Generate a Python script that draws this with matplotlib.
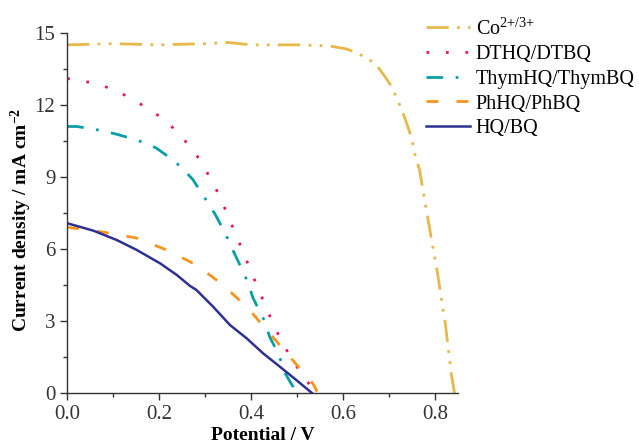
import matplotlib
matplotlib.use('Agg')
import matplotlib.pyplot as plt
from matplotlib.ticker import MultipleLocator

plt.rcParams['font.family'] = ['Liberation Serif', 'DejaVu Serif']
plt.rcParams['mathtext.default'] = 'regular'

# J-V curves
v_co = [0, 0.1, 0.2, 0.3, 0.35, 0.4, 0.5, 0.55, 0.578, 0.607, 0.632, 0.656, 0.675, 0.69, 0.704, 0.715,
        0.726, 0.735, 0.744, 0.751, 0.757, 0.766, 0.782, 0.798, 0.805, 0.822, 0.835, 0.842]
j_co = [14.5, 14.55, 14.5, 14.55, 14.6, 14.5, 14.5, 14.47, 14.43, 14.33, 14.15, 13.9, 13.6, 13.2, 12.8, 12.35,
        11.86, 11.4, 10.9, 10.4, 9.85, 9.3, 7.5, 5.75, 5.0, 2.9, 0.8, 0]

v_dthq = [0, 0.01, 0.051, 0.093, 0.134, 0.171, 0.209, 0.241, 0.268, 0.293, 0.312, 0.332, 0.349, 0.367,
          0.382, 0.399, 0.415, 0.432, 0.449, 0.468, 0.49, 0.515, 0.541]
j_dthq = [13.1, 13.07, 12.93, 12.7, 12.33, 11.9, 11.42, 10.85, 10.24, 9.6, 8.9, 8.2, 7.4, 6.6,
          5.9, 5.1, 4.36, 3.6, 2.83, 2.1, 1.35, 0.65, 0]

v_thym = [0, 0.021, 0.057, 0.082, 0.111, 0.144, 0.171, 0.194, 0.223, 0.245, 0.273, 0.30, 0.323, 0.345,
          0.364, 0.382, 0.393, 0.404, 0.417, 0.43, 0.44, 0.453, 0.464, 0.476, 0.491, 0.495]
j_thym = [11.1, 11.1, 10.99, 10.9, 10.76, 10.58, 10.4, 10.2, 9.8, 9.46, 8.9, 8.1, 7.4, 6.6,
          5.8, 5.07, 4.6, 3.96, 3.46, 2.97, 2.35, 1.86, 1.375, 0.75, 0.26, 0]

v_ph = [0, 0.013, 0.078, 0.152, 0.217, 0.281, 0.339, 0.393, 0.44, 0.487, 0.534, 0.545]
j_ph = [6.9, 6.87, 6.7, 6.45, 5.95, 5.33, 4.5, 3.53, 2.49, 1.44, 0.4, 0]

v_hq = [0, 0.057, 0.108, 0.151, 0.202, 0.238, 0.267, 0.281, 0.317, 0.354, 0.39, 0.426, 0.462, 0.498, 0.532]
j_hq = [7.07, 6.76, 6.37, 5.96, 5.4, 4.92, 4.46, 4.29, 3.6, 2.83, 2.28, 1.65, 1.1, 0.54, 0]

fig = plt.figure(figsize=(6.39, 4.44), dpi=100)
ax = fig.add_axes([0.105, 0.115, 0.612, 0.811])

ax.plot(v_co, j_co, color='#E8B84A', lw=2, ls=(0, (8, 3, 1, 3, 1, 3)), label='Co$^{2{+}/3{+}}$')
ax.plot(v_dthq, j_dthq, color='#EE1460', lw=2, ls=(0, (1, 6)), label='DTHQ/DTBQ')
ax.plot(v_thym, j_thym, color='#0A9EA6', lw=2, ls=(0, (6, 4.5, 1, 4.5)), label='ThymHQ/ThymBQ')
ax.plot(v_ph, j_ph, color='#F7941D', lw=2, ls=(0, (4.3, 6.5)), label='PhHQ/PhBQ')
ax.plot(v_hq, j_hq, color='#2E3192', lw=1.8, ls='-', label='HQ/BQ')

ax.set_xlim(0, 0.85)
ax.set_ylim(0, 15)
ax.xaxis.set_major_locator(MultipleLocator(0.2))
ax.xaxis.set_minor_locator(MultipleLocator(0.1))
ax.yaxis.set_major_locator(MultipleLocator(3))
ax.yaxis.set_minor_locator(MultipleLocator(1.5))
ax.set_xticklabels(['%.1f' % t for t in ax.get_xticks()])

for side in ['top', 'right']:
    ax.spines[side].set_visible(False)
for side in ['left', 'bottom']:
    ax.spines[side].set_color('#333333')
    ax.spines[side].set_linewidth(1)
ax.tick_params(which='major', direction='out', length=5, width=1, color='#333333', labelsize=15, labelcolor='#333333')
ax.tick_params(which='minor', direction='out', length=3, width=1, color='#333333')

ax.set_xlabel('Potential / V', fontsize=14, fontweight='bold', labelpad=2)
ax.set_ylabel('Current density / mA cm$^{-2}$', fontsize=14, fontweight='bold')
ax.yaxis.set_label_coords(-0.085, 0.48)

fig.legend(loc='upper left', bbox_to_anchor=(0.639, 1.0), frameon=False, fontsize=14.5,
           handlelength=2.15, handletextpad=0.3, labelspacing=0.28, borderaxespad=0.5)

plt.savefig('out.png', dpi=100)
